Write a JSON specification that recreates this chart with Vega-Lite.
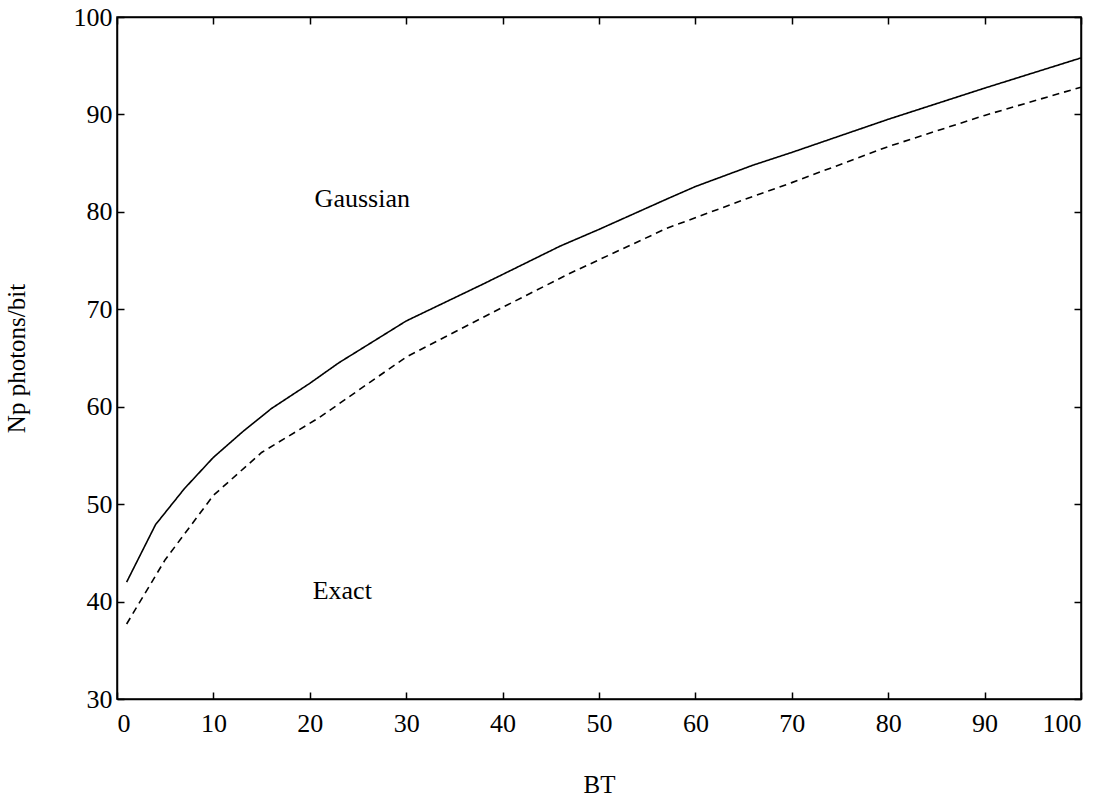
{
  "$schema": "https://vega.github.io/schema/vega-lite/v6.json",
  "width": 964,
  "height": 682,
  "autosize": {"type": "none"},
  "padding": {"left": 117, "top": 17, "right": 31, "bottom": 102},
  "background": "white",
  "config": {
    "view": {"stroke": "black", "strokeWidth": 1.5},
    "axis": {
      "grid": false,
      "domainColor": "black",
      "domainWidth": 1.5,
      "tickColor": "black",
      "tickWidth": 1.5,
      "tickSize": -7,
      "labelFont": "Liberation Serif",
      "labelFontSize": 26,
      "labelColor": "black",
      "titleFont": "Liberation Serif",
      "titleFontSize": 25,
      "titleFontWeight": "normal",
      "titleColor": "black"
    }
  },
  "datasets": {
    "curves": [
      {"curve": "Gaussian", "BT": 1, "Np": 42.0},
      {"curve": "Gaussian", "BT": 4, "Np": 47.9},
      {"curve": "Gaussian", "BT": 7, "Np": 51.6},
      {"curve": "Gaussian", "BT": 10, "Np": 54.8},
      {"curve": "Gaussian", "BT": 13, "Np": 57.4},
      {"curve": "Gaussian", "BT": 16, "Np": 59.8},
      {"curve": "Gaussian", "BT": 20, "Np": 62.4},
      {"curve": "Gaussian", "BT": 23, "Np": 64.5},
      {"curve": "Gaussian", "BT": 30, "Np": 68.8},
      {"curve": "Gaussian", "BT": 38, "Np": 72.6},
      {"curve": "Gaussian", "BT": 46, "Np": 76.5},
      {"curve": "Gaussian", "BT": 50, "Np": 78.2},
      {"curve": "Gaussian", "BT": 57, "Np": 81.3},
      {"curve": "Gaussian", "BT": 60, "Np": 82.6},
      {"curve": "Gaussian", "BT": 66, "Np": 84.8},
      {"curve": "Gaussian", "BT": 70, "Np": 86.1},
      {"curve": "Gaussian", "BT": 80, "Np": 89.5},
      {"curve": "Gaussian", "BT": 90, "Np": 92.7},
      {"curve": "Gaussian", "BT": 100, "Np": 95.8},
      {"curve": "Exact", "BT": 1, "Np": 37.7},
      {"curve": "Exact", "BT": 5, "Np": 44.3},
      {"curve": "Exact", "BT": 10, "Np": 50.9},
      {"curve": "Exact", "BT": 15, "Np": 55.3},
      {"curve": "Exact", "BT": 21, "Np": 58.9},
      {"curve": "Exact", "BT": 30, "Np": 65.1},
      {"curve": "Exact", "BT": 40, "Np": 70.2},
      {"curve": "Exact", "BT": 47, "Np": 73.7},
      {"curve": "Exact", "BT": 57, "Np": 78.3},
      {"curve": "Exact", "BT": 66, "Np": 81.6},
      {"curve": "Exact", "BT": 70, "Np": 83.0},
      {"curve": "Exact", "BT": 80, "Np": 86.7},
      {"curve": "Exact", "BT": 90, "Np": 89.9},
      {"curve": "Exact", "BT": 100, "Np": 92.8}
    ],
    "labels": [
      {"label": "Gaussian", "BT": 20.5, "Np": 81.3},
      {"label": "Exact", "BT": 20.3, "Np": 41.1}
    ]
  },
  "layer": [
    {
      "data": {"name": "curves"},
      "mark": {"type": "line", "color": "black", "strokeWidth": 1.6},
      "encoding": {
        "x": {
          "field": "BT", "type": "quantitative",
          "scale": {"domain": [0, 100], "nice": false},
          "axis": {"orient": "bottom", "title": "BT", "values": [0, 10, 20, 30, 40, 50, 60, 70, 80, 90, 100], "labelPadding": 18, "titlePadding": 36}
        },
        "y": {
          "field": "Np", "type": "quantitative",
          "scale": {"domain": [30, 100], "nice": false, "zero": false},
          "axis": {"orient": "left", "title": "Np photons/bit", "values": [30, 40, 50, 60, 70, 80, 90, 100], "labelPadding": 12, "titlePadding": 44}
        },
        "strokeDash": {
          "field": "curve", "type": "nominal",
          "scale": {"domain": ["Gaussian", "Exact"], "range": [[1, 0], [7, 5]]},
          "legend": null
        }
      }
    },
    {
      "data": {"name": "labels"},
      "mark": {"type": "text", "align": "left", "baseline": "middle", "font": "Liberation Serif", "fontSize": 26, "color": "black"},
      "encoding": {
        "x": {
          "field": "BT", "type": "quantitative",
          "scale": {"domain": [0, 100], "nice": false},
          "axis": {"orient": "top", "title": null, "labels": false, "values": [0, 10, 20, 30, 40, 50, 60, 70, 80, 90, 100]}
        },
        "y": {
          "field": "Np", "type": "quantitative",
          "scale": {"domain": [30, 100], "nice": false, "zero": false},
          "axis": {"orient": "right", "title": null, "labels": false, "values": [30, 40, 50, 60, 70, 80, 90, 100]}
        },
        "text": {"field": "label"}
      }
    }
  ],
  "resolve": {"axis": {"x": "independent", "y": "independent"}}
}
